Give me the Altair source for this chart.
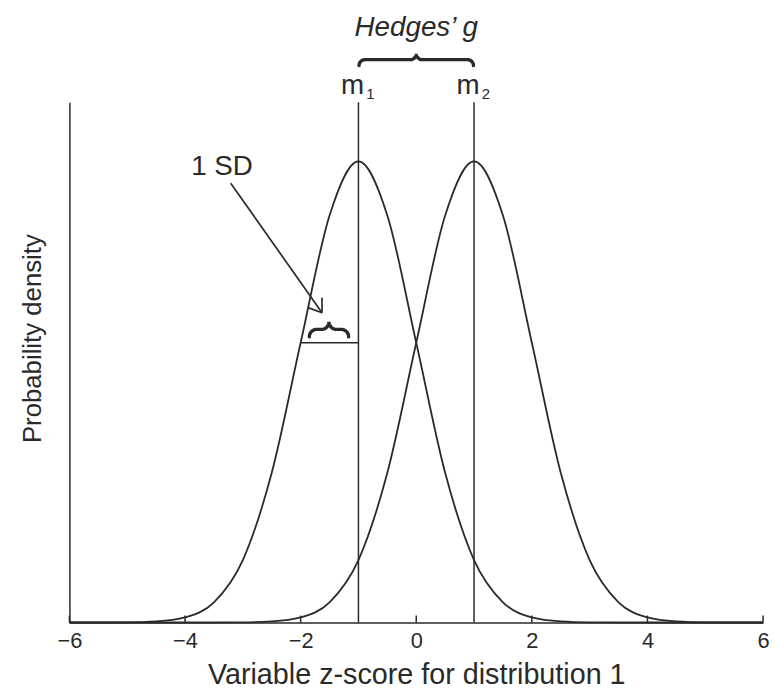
import math
import pandas as pd
import altair as alt

# ---------------- data ----------------
x_grid = [-6, -5.5, -5, -4.5, -4, -3.5, -3, -2.5, -2, -1.5, -1, -0.5, 0,
          0.5, 1, 1.5, 2, 2.5, 3, 3.5, 4, 4.5, 5, 5.5, 6]
dens_1 = [0.0, 0.0, 0.0001, 0.0009, 0.0044, 0.0175, 0.0540, 0.1295, 0.2420,
          0.3521, 0.3989, 0.3521, 0.2420, 0.1295, 0.0540, 0.0175, 0.0044,
          0.0009, 0.0001, 0.0, 0.0, 0.0, 0.0, 0.0, 0.0]
dens_2 = [0.0, 0.0, 0.0, 0.0, 0.0, 0.0, 0.0001, 0.0009, 0.0044, 0.0175,
          0.0540, 0.1295, 0.2420, 0.3521, 0.3989, 0.3521, 0.2420, 0.1295,
          0.0540, 0.0175, 0.0044, 0.0009, 0.0001, 0.0, 0.0]
x_ticks = [-6, -4, -2, 0, 2, 4, 6]
means = [-1, 1]
mean_names = ["m", "m"]
mean_subs = ["1", "2"]
x_title = "Variable z-score for distribution 1"
y_title = "Probability density"
effect_label = "Hedges\u2019 g"
sd_label = "1 SD"
sd_span = [-2, -1]          # one SD to the left of m1
sd_level = 0.2420           # curve height at 1 SD
sd_brace_span = [-1.85, -1.17]
sd_label_pos = [-3.36, 0.387]
arrow_from = [-3.21, 0.380]
arrow_to = [-1.63, 0.268]
X_DOMAIN = [-6, 6]
Y_MAX = 0.45

# ---------------- layout helpers ----------------
W, H = 700, 525
PX_X = (X_DOMAIN[1] - X_DOMAIN[0]) / W
PX_Y = Y_MAX / H
INK = "#2a2a2a"
FONT = "Liberation Sans"


def brace_points(x0, x1, y_base, height_px, n=14):
    w = (x1 - x0) / PX_X
    r = height_px / 2.0
    left = []
    for i in range(n):
        t = (math.pi / 2) * i / (n - 1)
        left.append((r - r * math.cos(t), r * math.sin(t)))
    for i in range(1, n):
        t = (math.pi / 2) * i / (n - 1)
        left.append((w / 2 - r + r * math.sin(t), 2 * r - r * math.cos(t)))
    right = [(w - px, py) for px, py in reversed(left[:-1])]
    pts = left + right
    return [{"x": x0 + px * PX_X, "y": y_base + py * PX_Y, "i": k}
            for k, (px, py) in enumerate(pts)]


curves = pd.DataFrame(
    [{"x": x, "y": y, "c": "d1"} for x, y in zip(x_grid, dens_1)] +
    [{"x": x, "y": y, "c": "d2"} for x, y in zip(x_grid, dens_2)]
)

base = alt.Chart(curves)
xs = alt.Scale(domain=X_DOMAIN, nice=False, zero=False)
ys = alt.Scale(domain=[0, Y_MAX], nice=False)

curve_layer = base.mark_line(interpolate="monotone", color=INK, strokeWidth=1.8).encode(
    x=alt.X("x:Q", scale=xs,
            axis=alt.Axis(values=x_ticks, format="d", ticks=False, tickSize=0,
                          grid=False, labelFlush=False,
                          labelFontSize=22, labelFont=FONT, labelColor=INK,
                          labelPadding=8, domainColor=INK, domainWidth=1.5,
                          title=x_title, titleFontSize=29, titleFont=FONT,
                          titleFontWeight="normal", titleColor=INK,
                          titleX=W / 2, titleY=62, titleBaseline="alphabetic")),
    y=alt.Y("y:Q", scale=ys,
            axis=alt.Axis(labels=False, ticks=False, grid=False,
                          domainColor=INK, domainWidth=1.5,
                          title=y_title, titleFontSize=26, titleFont=FONT,
                          titleFontWeight="normal", titleColor=INK,
                          titleAngle=-90, titleX=-29, titleY=238,
                          titleBaseline="alphabetic", titleAlign="center")),
    detail="c:N",
)

# inward ticks
tick_df = pd.DataFrame({"x": x_ticks, "y": [0] * len(x_ticks),
                        "y2": [7 * PX_Y] * len(x_ticks)})
tick_layer = alt.Chart(tick_df).mark_rule(color=INK, strokeWidth=1.5).encode(
    x=alt.X("x:Q", scale=xs), y=alt.Y("y:Q", scale=ys), y2="y2:Q")

# vertical lines at the means
mean_df = pd.DataFrame({"x": means, "y": [0, 0], "y2": [Y_MAX, Y_MAX]})
mean_layer = alt.Chart(mean_df).mark_rule(color=INK, strokeWidth=1.5).encode(
    x=alt.X("x:Q", scale=xs), y=alt.Y("y:Q", scale=ys), y2="y2:Q")

# mean labels m1, m2
lab_y = (625 - 92) * PX_Y
m_df = pd.DataFrame({"x": means, "y": [lab_y] * 2, "t": mean_names})
m_layer = alt.Chart(m_df).mark_text(fontSize=28, font=FONT, color=INK,
                                    baseline="alphabetic", align="center", dx=-6).encode(
    x=alt.X("x:Q", scale=xs), y=alt.Y("y:Q", scale=ys), text="t:N")
s_df = pd.DataFrame({"x": means, "y": [lab_y - 5 * PX_Y] * 2, "t": mean_subs})
s_layer = alt.Chart(s_df).mark_text(fontSize=15, font=FONT, color=INK,
                                    baseline="alphabetic", align="center", dx=12).encode(
    x=alt.X("x:Q", scale=xs), y=alt.Y("y:Q", scale=ys), text="t:N")

# Hedges' g brace and label
top_brace = pd.DataFrame(brace_points(means[0] + 0.01, means[1] - 0.01,
                                      (625 - 63) * PX_Y, 12))
top_brace_layer = alt.Chart(top_brace).mark_line(color=INK, strokeWidth=3.4,
                                                 strokeCap="round").encode(
    x=alt.X("x:Q", scale=xs), y=alt.Y("y:Q", scale=ys), order="i:Q")
g_df = pd.DataFrame({"x": [sum(means) / 2], "y": [(625 - 33) * PX_Y], "t": [effect_label]})
g_layer = alt.Chart(g_df).mark_text(fontSize=28, font=FONT, fontStyle="italic",
                                    color=INK, baseline="alphabetic", align="center").encode(
    x=alt.X("x:Q", scale=xs), y=alt.Y("y:Q", scale=ys), text="t:N")

# 1 SD segment, brace, label and arrow
seg_rows = [{"x": sd_span[0], "y": sd_level, "x2": sd_span[1], "y2": sd_level}]
sx, sy = arrow_from
tx, ty = arrow_to
ux, uy = (tx - sx) / PX_X, (ty - sy) / PX_Y
ln = math.hypot(ux, uy)
ux, uy = ux / ln, uy / ln
seg_rows.append({"x": sx, "y": sy, "x2": tx, "y2": ty})
for ang in (35, -35):
    a = math.radians(ang)
    bx, by = -ux, -uy
    rx = bx * math.cos(a) - by * math.sin(a)
    ry = bx * math.sin(a) + by * math.cos(a)
    seg_rows.append({"x": tx, "y": ty, "x2": tx + 15 * rx * PX_X, "y2": ty + 15 * ry * PX_Y})
seg_df = pd.DataFrame(seg_rows)
seg_layer = alt.Chart(seg_df).mark_rule(color=INK, strokeWidth=1.7).encode(
    x=alt.X("x:Q", scale=xs), y=alt.Y("y:Q", scale=ys), x2="x2:Q", y2="y2:Q")

sd_brace = pd.DataFrame(brace_points(sd_brace_span[0], sd_brace_span[1],
                                     sd_level + 6 * PX_Y, 15))
sd_brace_layer = alt.Chart(sd_brace).mark_line(color=INK, strokeWidth=3.4,
                                               strokeCap="round").encode(
    x=alt.X("x:Q", scale=xs), y=alt.Y("y:Q", scale=ys), order="i:Q")
sd_df = pd.DataFrame({"x": [sd_label_pos[0]], "y": [sd_label_pos[1]], "t": [sd_label]})
sd_layer = alt.Chart(sd_df).mark_text(fontSize=28, font=FONT, color=INK,
                                      baseline="alphabetic", align="center").encode(
    x=alt.X("x:Q", scale=xs), y=alt.Y("y:Q", scale=ys), text="t:N")

chart = alt.layer(
    curve_layer, tick_layer, mean_layer, m_layer, s_layer, top_brace_layer,
    g_layer, seg_layer, sd_brace_layer, sd_layer
).properties(
    width=W, height=H,
    padding={"left": 62, "top": 92, "right": 6, "bottom": 70},
    autosize=alt.AutoSizeParams(type="none"),
    background="white",
).configure_view(stroke=None)

chart.save("out.html", embed_options={"renderer": "svg", "actions": False})
